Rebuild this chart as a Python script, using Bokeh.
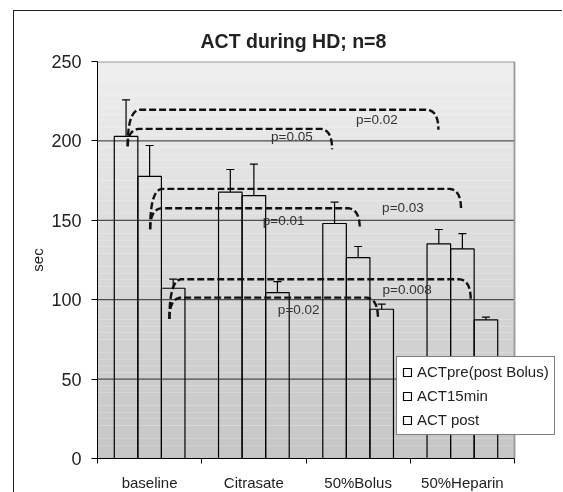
import numpy as np
from bokeh.plotting import figure
from bokeh.models import (ColumnDataSource, Range1d, FixedTicker, Whisker, TeeHead,
                          Legend, LegendItem)
from bokeh.embed import file_html
from bokeh.resources import INLINE
from bokeh.core.properties import value

# ---------------- data ----------------
categories = ["baseline", "Citrasate", "50%Bolus", "50%Heparin"]
series_names = ["ACTpre(post Bolus)", "ACT15min", "ACT post"]
act_pre = [202.8, 167.7, 148.0, 135.2]
act_pre_sd = [23.0, 14.3, 13.4, 9.0]
act_15min = [177.6, 165.6, 126.5, 132.0]
act_15min_sd = [19.5, 19.8, 7.0, 9.6]
act_post = [107.2, 104.5, 94.0, 87.3]
act_post_sd = [5.7, 6.9, 3.2, 1.7]
y_ticks = [0, 50, 100, 150, 200, 250]

# significance brackets (x in category units, y in sec)
bracket_x_left = [0.29, 0.29, 0.505, 0.505, 0.69, 0.69]
bracket_x_right = [3.27, 2.25, 3.487, 2.516, 3.58, 2.69]
bracket_y_left = [197.0, 196.5, 144.4, 144.4, 87.9, 87.9]
bracket_y_right = [207.0, 194.8, 157.0, 144.4, 99.9, 88.3]
bracket_y_top = [219.6, 207.6, 169.8, 157.6, 112.9, 101.3]
p_labels = ["p=0.02", "p=0.05", "p=0.03", "p=0.01", "p=0.008", "p=0.02"]
p_label_x = [2.68, 1.865, 2.93, 1.786, 2.97, 1.93]
p_label_y = [213.3, 202.8, 158.0, 149.8, 106.2, 93.6]

FONT = "Liberation Sans"
W, H = 548, 480
FW, FH = 465, 397          # frame (plot area + room on the right for the legend)
PLOT_PX = 417              # pixel width of the 4 categories
n_cat = len(categories)
x_end = n_cat * FW / PLOT_PX
y_top = y_ticks[-1]

p = figure(width=W, height=H, output_backend="svg", toolbar_location=None,
           x_range=Range1d(0, x_end), y_range=Range1d(0, y_top),
           min_border_left=83, min_border_right=0, min_border_top=50,
           min_border_bottom=33,
           styles={"position": "fixed", "left": "13px", "top": "10px",
                   "border-left": "1.5px solid #222222",
                   "border-top": "1.5px solid #222222"})
p.frame_width = FW
p.frame_height = FH
p.background_fill_color = "white"
p.border_fill_color = "white"
p.outline_line_color = None

# title
p.title.text = "ACT during HD; n=8"
p.title.align = "left"
p.title.offset = 103
p.title.text_font = FONT
p.title.text_font_size = "19.5px"
p.title.text_font_style = "bold"
p.title.text_color = "#222222"
p.title.standoff = 20

# gradient background of the plot area (style only)
n_bands = 60
edges = np.linspace(0, y_top, n_bands + 1)
c_bot = np.array([0xc6, 0xc6, 0xc6])
c_top = np.array([0xef, 0xef, 0xef])
band_colors = []
for i in range(n_bands):
    f = (i + 0.5) / n_bands
    c = (c_bot + (c_top - c_bot) * f).astype(int)
    band_colors.append("#%02x%02x%02x" % tuple(c))
p.quad(left=0, right=n_cat, bottom=edges[:-1], top=edges[1:],
       fill_color=band_colors, line_color=None, level="image")

# grid lines (restricted to the plot area)
p.xgrid.grid_line_color = None
p.ygrid.grid_line_color = None
grid_vals = y_ticks[1:-1]
p.segment(x0=[0] * len(grid_vals), x1=[n_cat] * len(grid_vals), y0=grid_vals, y1=grid_vals,
          line_color="#2a2a2a", line_width=1, level="image")
# plot-area outline (top and right)
p.segment(x0=[0, n_cat], x1=[n_cat, n_cat], y0=[y_top, 0], y1=[y_top, y_top],
          line_color="#9a9a9a", line_width=1.8, level="image")

# bars
bar_w = 0.226
offsets = [-bar_w, 0.0, bar_w]
vals = [act_pre, act_15min, act_post]
sds = [act_pre_sd, act_15min_sd, act_post_sd]
items = []
for name, off, v, sd in zip(series_names, offsets, vals, sds):
    x = np.arange(n_cat) + 0.5 + off
    src = ColumnDataSource(dict(x=x, top=v, upper=np.array(v) + np.array(sd)))
    r = p.vbar(x="x", top="top", width=bar_w, bottom=0, source=src,
               fill_color="white", fill_alpha=0, line_color="black", line_width=1.2)
    w = Whisker(source=src, base="x", lower="top", upper="upper",
                lower_head=None,
                upper_head=TeeHead(size=8, line_color="black", line_width=1.2),
                line_color="black", line_width=1.2, level="glyph")
    p.add_layout(w)
    items.append(LegendItem(label=name, renderers=[r]))

# brackets
t = np.linspace(0, 1, 24)
dx = 0.12
bx, by = [], []
for xl, xr, yl, yr, yt in zip(bracket_x_left, bracket_x_right, bracket_y_left,
                              bracket_y_right, bracket_y_top):
    lx = (1 - t) ** 2 * xl + 2 * (1 - t) * t * xl + t ** 2 * (xl + dx)
    ly = (1 - t) ** 2 * yl + 2 * (1 - t) * t * yt + t ** 2 * yt
    rx = (1 - t) ** 2 * (xr - dx) + 2 * (1 - t) * t * xr + t ** 2 * xr
    ry = (1 - t) ** 2 * yt + 2 * (1 - t) * t * yt + t ** 2 * yr
    bx.append(list(np.concatenate([lx, rx])))
    by.append(list(np.concatenate([ly, ry])))
p.multi_line(xs=bx, ys=by, line_color="#111111", line_width=2.4, line_dash="7 3")

p.text(x=p_label_x, y=p_label_y, text=p_labels, text_font=value(FONT),
       text_font_size="13.5px", text_color="#333333", text_align="center",
       text_baseline="middle")

# axes
p.xaxis.bounds = (0, n_cat)
p.xaxis.ticker = FixedTicker(ticks=[i + 0.5 for i in range(n_cat)],
                             minor_ticks=list(range(n_cat + 1)))
p.xaxis.major_label_overrides = {i + 0.5: c for i, c in enumerate(categories)}
p.xaxis.major_tick_line_color = None
p.xaxis.major_tick_out = 0
p.xaxis.major_tick_in = 0
p.xaxis.minor_tick_out = 5
p.xaxis.minor_tick_in = 0
p.xaxis.minor_tick_line_color = "black"
p.xaxis.major_label_standoff = 10
p.xaxis.major_label_text_font = FONT
p.xaxis.major_label_text_font_size = "15px"
p.xaxis.major_label_text_color = "#222222"
p.xaxis.axis_line_color = "black"

p.yaxis.ticker = FixedTicker(ticks=y_ticks)
p.yaxis.minor_tick_line_color = None
p.yaxis.major_tick_out = 6
p.yaxis.major_tick_in = 0
p.yaxis.major_tick_line_color = "black"
p.yaxis.major_label_standoff = 10
p.yaxis.major_label_text_font = FONT
p.yaxis.major_label_text_font_size = "18px"
p.yaxis.major_label_text_color = "#222222"
p.yaxis.axis_line_color = "black"
p.yaxis.axis_label = "sec"
p.yaxis.axis_label_text_font = FONT
p.yaxis.axis_label_text_font_size = "15px"
p.yaxis.axis_label_text_font_style = "normal"
p.yaxis.axis_label_text_color = "#222222"
p.yaxis.axis_label_standoff = 2

# legend
legend = Legend(items=items, location=(299, 23), orientation="vertical")
legend.border_line_color = "black"
legend.border_line_width = 1
legend.background_fill_color = "white"
legend.background_fill_alpha = 1
legend.label_text_font = FONT
legend.label_text_font_size = "15px"
legend.label_text_color = "#222222"
legend.glyph_width = 10
legend.glyph_height = 10
legend.label_height = 19
legend.label_standoff = 5
legend.spacing = 5
legend.padding = 5
legend.margin = 0
p.add_layout(legend, "center")

open("out.html", "w").write(file_html(p, INLINE))
